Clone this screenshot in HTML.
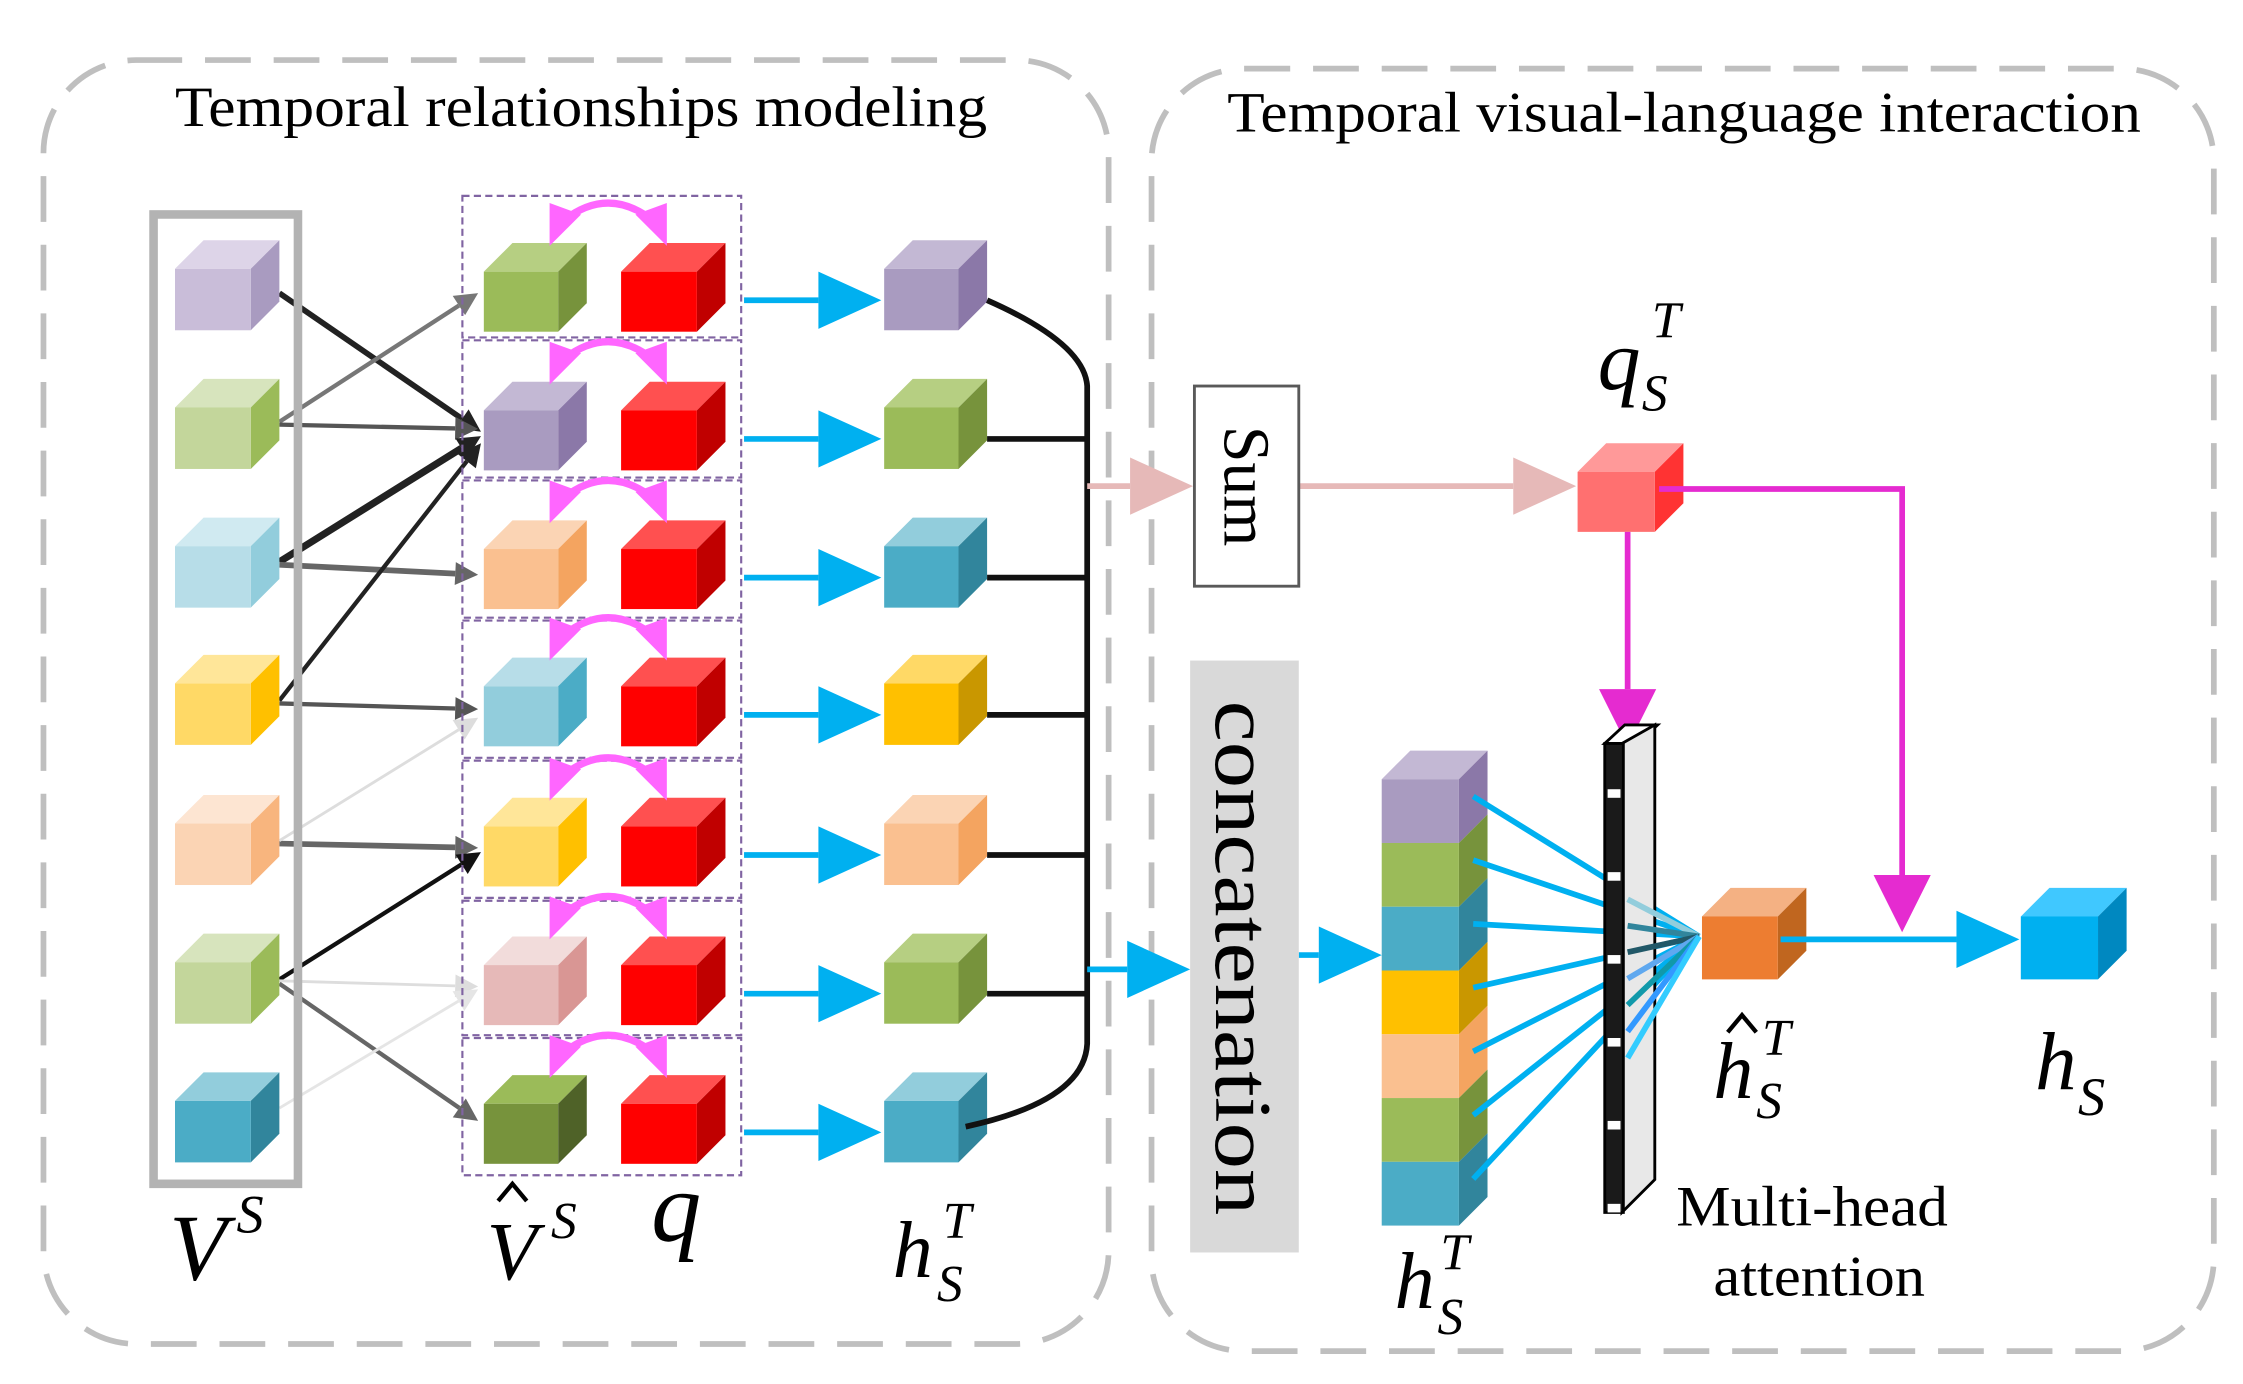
<!DOCTYPE html>
<html><head><meta charset="utf-8"><style>
html,body{margin:0;padding:0;background:#fff;}
svg{display:block;}
text{font-family:"Liberation Serif",serif;}
</style></head><body>
<svg id="s" width="2243" height="1384" viewBox="0 0 1568 968" xmlns="http://www.w3.org/2000/svg">
<rect x="30" y="42" width="745" height="898" rx="65" fill="none" stroke="#bfbfbf" stroke-width="4" stroke-dasharray="32,16"/>
<rect x="805" y="48" width="743" height="897" rx="65" fill="none" stroke="#bfbfbf" stroke-width="4" stroke-dasharray="32,16"/>
<text x="122" y="88" font-size="40" textLength="568" lengthAdjust="spacingAndGlyphs">Temporal relationships modeling</text>
<text x="858" y="92" font-size="40" textLength="639" lengthAdjust="spacingAndGlyphs">Temporal visual-language interaction</text>
<g id="g"></g>
<rect x="107" y="150" width="101" height="678" fill="none" stroke="#b3b3b3" stroke-width="6"/>
<rect x="835" y="270" width="73" height="140" fill="#fff" stroke="#595959" stroke-width="2"/>
<text transform="translate(856,340) rotate(90)" font-size="46" text-anchor="middle">Sum</text>
<rect x="832" y="462" width="76" height="414" fill="#d9d9d9"/>
<text transform="translate(850,490) rotate(90)" font-size="56" textLength="360" lengthAdjust="spacingAndGlyphs">concatenation</text>
<text x="1172" y="857" font-size="40" textLength="190" lengthAdjust="spacingAndGlyphs">Multi-head</text>
<text x="1198" y="906" font-size="40" textLength="148" lengthAdjust="spacingAndGlyphs">attention</text>
<g font-style="italic">
<text x="118" y="895" font-size="66">V</text><text x="165" y="862" font-size="38">S</text>
<text x="340" y="895" font-size="58">V</text><text x="385" y="866" font-size="36">S</text>
<text x="455" y="868" font-size="70">q</text>
<text x="624" y="893" font-size="56">h</text><text x="655" y="910" font-size="36">S</text><text x="659" y="866" font-size="36">T</text>
<text x="975" y="915" font-size="56">h</text><text x="1005" y="933" font-size="36">S</text><text x="1007" y="888" font-size="36">T</text>
<text x="1117" y="272" font-size="60">q</text><text x="1148" y="287" font-size="36">S</text><text x="1155" y="236" font-size="36">T</text>
<text x="1198" y="768" font-size="56">h</text><text x="1228" y="782" font-size="36">S</text><text x="1232" y="738" font-size="36">T</text>
<text x="1423" y="762" font-size="58">h</text><text x="1453" y="780" font-size="38">S</text>
</g>
<path d="M348,840 L358,828 L368,840" fill="none" stroke="#000" stroke-width="3"/>
<path d="M1208,722 L1218,710 L1228,722" fill="none" stroke="#000" stroke-width="3"/>
</svg>
<script>
var g=document.getElementById('g'),N='http://www.w3.org/2000/svg';
function el(t,a){var e=document.createElementNS(N,t);for(var k in a)e.setAttribute(k,a[k]);g.appendChild(e);return e;}
function cube(x,y,w,h,f,t,s,d){d=d||20;
el('polygon',{points:[x,y,x+d,y-d,x+w+d,y-d,x+w,y].join(','),fill:t});
el('polygon',{points:[x+w,y,x+w+d,y-d,x+w+d,y+h-d,x+w,y+h].join(','),fill:s});
el('rect',{x:x,y:y,width:w,height:h,fill:f});}
function line(x1,y1,x2,y2,c,w){el('line',{x1:x1,y1:y1,x2:x2,y2:y2,stroke:c,'stroke-width':w});}
function arrow(x1,y1,x2,y2,c,w,L,W){var a=Math.atan2(y2-y1,x2-x1),bx=x2-L*Math.cos(a),by=y2-L*Math.sin(a);
line(x1,y1,bx,by,c,w);var px=-Math.sin(a)*W/2,py=Math.cos(a)*W/2;
el('polygon',{points:[x2,y2,bx+px,by+py,bx-px,by-py].join(','),fill:c});}
var C={pu:['#c9bdd9','#ddd4e8','#a99bc0'],pu2:['#a99bc0','#c3b8d4','#8b78a8'],lg:['#c3d69b','#d7e4bd','#9bbb59'],g:['#9bbb59','#b6cf82','#77933c'],
lb:['#b7dde8','#d0eaf1','#92cddc'],lb2:['#92cddc','#b7dde8','#4bacc6'],ly:['#ffd966','#ffe699','#ffc000'],y2:['#ffd966','#ffe699','#ffc000'],
lp:['#fbd4b4','#fde5d2','#f8b57e'],p:['#fac090','#fbd4b4','#f4a460'],t:['#4bacc6','#92cddc','#31859c'],dg:['#77933c','#9bbb59','#4f6228'],
pk:['#e6b9b8','#f2dcdb','#d99694'],r:['#ff0000','#ff5050','#c00000'],gd:['#ffc000','#ffd966','#c99700']};
var ys=[188,285,382,478,576,673,770];
var L=[[195,205,336,302,'#222',4],[195,295,334,205,'#777',3],[195,297,334,300,'#555',3],[195,393,336,305,'#222',5],[195,395,334,402,'#666',4],
[195,490,336,310,'#222',3],[195,492,334,496,'#555',3],[195,590,334,593,'#666',4],[195,588,334,502,'#ddd',2],[195,685,336,596,'#111',3],
[195,686,334,690,'#ddd',2],[195,688,334,784,'#666',3],[195,775,334,692,'#e5e5e5',2]];
L.forEach(function(l){arrow(l[0],l[1],l[2],l[3],l[4],l[5],16,16);});
var cv=[C.pu,C.lg,C.lb,C.ly,C.lp,C.lg,C.t];
var ch=[C.g,C.pu2,C.p,C.lb2,C.y2,C.pk,C.dg];
var co=[C.pu2,C.g,C.t,C.gd,C.p,C.g,C.t];
var by=[137,238,336,434,532,630,726];
for(var i=0;i<7;i++){var y=ys[i];
cube(122,y,53,43,cv[i][0],cv[i][1],cv[i][2]);
el('rect',{x:323,y:by[i],width:195,height:(i<6?by[i+1]-by[i]-2:96),fill:'none',stroke:'#8064a2','stroke-width':1.5,'stroke-dasharray':'5,3'});
cube(338,y+2,52,42,ch[i][0],ch[i][1],ch[i][2]);
cube(434,y+2,53,42,C.r[0],C.r[1],C.r[2]);
el('path',{d:'M394,'+(y-34)+' Q425,'+(y-58)+' 456,'+(y-34),fill:'none',stroke:'#ff66ff','stroke-width':5});
el('polygon',{points:[384,y-16,384,y-46,406,y-38].join(','),fill:'#ff66ff'});
el('polygon',{points:[466,y-16,466,y-46,444,y-38].join(','),fill:'#ff66ff'});
arrow(520,y+22,616,y+22,'#00b0f0',4,44,40);
cube(618,y,52,43,co[i][0],co[i][1],co[i][2]);
if(i>0&&i<6)line(690,y+22,760,y+22,'#111',4);
}
el('path',{d:'M690,210 Q758,240 760,270 L760,730 Q758,770 675,788',fill:'none',stroke:'#111','stroke-width':4});
arrow(760,340,834,340,'#e6b9b8',4,44,40);
arrow(908,340,1102,340,'#e6b9b8',4,44,40);
arrow(760,678,832,678,'#00b0f0',4,44,40);
arrow(908,668,966,668,'#00b0f0',4,44,40);
cube(1103,330,54,42,'#ff7070','#ff9999','#ff3333');
el('polyline',{points:'1160,342 1330,342 1330,612',fill:'none',stroke:'#e52bd0','stroke-width':4});
el('polygon',{points:'1310,612 1350,612 1330,652',fill:'#e52bd0'});
line(1138,372,1138,482,'#e52bd0',4);
el('polygon',{points:'1118,482 1158,482 1138,522',fill:'#e52bd0'});
var sc=[C.pu2,C.g,C.t,C.gd,C.p,C.g,C.t];
for(var j=0;j<7;j++){var yy=545+j*44.6;
if(j==0)el('polygon',{points:[966,yy,986,yy-20,1040,yy-20,1020,yy].join(','),fill:'#c3b8d4'});
el('polygon',{points:[1020,yy,1040,yy-20,1040,yy+24.6,1020,yy+44.6].join(','),fill:sc[j][2]});
el('rect',{x:966,y:yy,width:54,height:44.6,fill:sc[j][0]});
}
for(var j=0;j<7;j++){line(1030,557+j*44.6,1188,655,'#00b0f0',4);}
el('polygon',{points:'1122,520 1136,507 1159,507 1145,520',fill:'#fff',stroke:'#000','stroke-width':2});
el('polygon',{points:'1134,520 1157,507 1157,825 1134,848',fill:'#e8e8e8',stroke:'#000','stroke-width':2});
el('rect',{x:1122,y:520,width:13,height:328,fill:'#1a1a1a',stroke:'#000','stroke-width':2});
for(var k=0;k<7;k++)el('rect',{x:1124,y:552+k*58,width:9,height:6,fill:'#fff'});
var fc=['#92cddc','#31859c','#215868','#5fa8ef','#1199aa','#3399ff','#33ccff'];
for(var k=0;k<7;k++)line(1138,629+k*18.5,1188,655,fc[k],4);
cube(1190,641,53,44,'#ed7d31','#f4b183','#c0661f');
arrow(1245,657,1412,657,'#00b0f0',4,44,40);
cube(1413,641,54,44,'#00b0f0','#40c8ff','#0088c0');
</script>
</body></html>
